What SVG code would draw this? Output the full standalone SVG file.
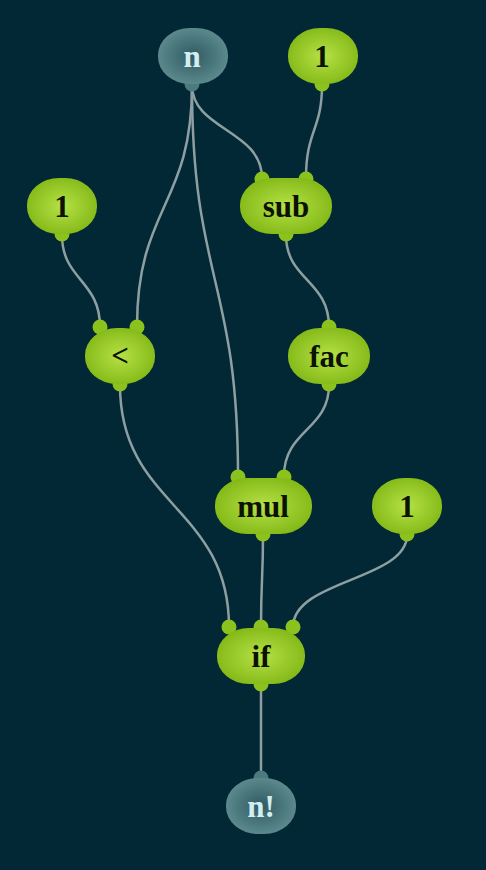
<svg xmlns="http://www.w3.org/2000/svg" width="486" height="870" viewBox="0 0 486 870">
<defs>
<radialGradient id="gg" cx="50%" cy="50%" r="55%">
<stop offset="0" stop-color="#b6e146"/>
<stop offset="1" stop-color="#82b816"/>
</radialGradient>
<radialGradient id="tg" cx="50%" cy="50%" r="55%">
<stop offset="0" stop-color="#2f5a62"/>
<stop offset="1" stop-color="#5f8d90"/>
</radialGradient>
<style>
.edge{fill:none;stroke:#8d9fa2;stroke-width:2.5}
.g{fill:url(#gg)}
.gp{fill:#8cc21e}
.t{fill:url(#tg)}
.tp{fill:#4d7a7f}
.lg{font-family:"Liberation Serif","DejaVu Serif",serif;font-weight:bold;font-size:31px;fill:#0c1204;text-anchor:middle}
.lt{font-family:"Liberation Serif","DejaVu Serif",serif;font-weight:bold;font-size:31px;fill:#d2eef0;text-anchor:middle}
</style>
</defs>
<rect width="486" height="870" fill="#022835"/>
<g id="connectors">
<path class="edge" d="M192,85 C192,130 262,130 262,178"/>
<path class="edge" d="M322,85 C322,130 306,130 306,178"/>
<path class="edge" d="M192,85 C192,206 137,206 137,327"/>
<path class="edge" d="M62,235 C62,280 100,280 100,327"/>
<path class="edge" d="M192,85 C192,280 238,280 238,476"/>
<path class="edge" d="M286,235 C286,280 329,280 329,327"/>
<path class="edge" d="M329,385 C329,430 284,430 284,476"/>
<path class="edge" d="M120,385 C120,506 229,506 229,627"/>
<path class="edge" d="M263,535 C263,580 261,580 261,627"/>
<path class="edge" d="M407,535 C407,580 293,580 293,627"/>
<path class="edge" d="M261,685 C261,730 261,730 261,777"/>
</g>
<g id="n">
<circle class="tp" cx="192" cy="84" r="7.5"/>
<rect class="t" x="158" y="28" width="70" height="56" rx="32" ry="27"/>
<text class="lt" x="192" y="67">n</text>
</g>
<g id="one_a">
<circle class="gp" cx="322" cy="84" r="7.5"/>
<rect class="g" x="288" y="28" width="70" height="56" rx="32" ry="27"/>
<text class="lg" x="322" y="67">1</text>
</g>
<g id="one_b">
<circle class="gp" cx="62" cy="234" r="7.5"/>
<rect class="g" x="27" y="178" width="70" height="56" rx="32" ry="27"/>
<text class="lg" x="62" y="217">1</text>
</g>
<g id="sub">
<circle class="gp" cx="262" cy="179" r="7.5"/>
<circle class="gp" cx="306" cy="179" r="7.5"/>
<circle class="gp" cx="286" cy="234" r="7.5"/>
<rect class="g" x="240" y="178" width="92" height="56" rx="32" ry="27"/>
<text class="lg" x="286" y="217">sub</text>
</g>
<g id="lt">
<circle class="gp" cx="100" cy="327" r="7.5"/>
<circle class="gp" cx="137" cy="327" r="7.5"/>
<circle class="gp" cx="120" cy="384" r="7.5"/>
<rect class="g" x="85" y="328" width="70" height="56" rx="32" ry="27"/>
<text class="lg" x="120" y="366">&lt;</text>
</g>
<g id="fac">
<circle class="gp" cx="329" cy="327" r="7.5"/>
<circle class="gp" cx="329" cy="384" r="7.5"/>
<rect class="g" x="288" y="328" width="82" height="56" rx="32" ry="27"/>
<text class="lg" x="329" y="367">fac</text>
</g>
<g id="mul">
<circle class="gp" cx="238" cy="477" r="7.5"/>
<circle class="gp" cx="284" cy="477" r="7.5"/>
<circle class="gp" cx="263" cy="534" r="7.5"/>
<rect class="g" x="215" y="478" width="97" height="56" rx="32" ry="27"/>
<text class="lg" x="263" y="517">mul</text>
</g>
<g id="one_c">
<circle class="gp" cx="407" cy="534" r="7.5"/>
<rect class="g" x="372" y="478" width="70" height="56" rx="32" ry="27"/>
<text class="lg" x="407" y="517">1</text>
</g>
<g id="if">
<circle class="gp" cx="229" cy="627" r="7.5"/>
<circle class="gp" cx="261" cy="627" r="7.5"/>
<circle class="gp" cx="293" cy="627" r="7.5"/>
<circle class="gp" cx="261" cy="684" r="7.5"/>
<rect class="g" x="217" y="628" width="88" height="56" rx="32" ry="27"/>
<text class="lg" x="261" y="667">if</text>
</g>
<g id="nfact">
<circle class="tp" cx="261" cy="778" r="7.5"/>
<rect class="t" x="226" y="778" width="70" height="56" rx="32" ry="27"/>
<text class="lt" x="261" y="817">n!</text>
</g>
</svg>
